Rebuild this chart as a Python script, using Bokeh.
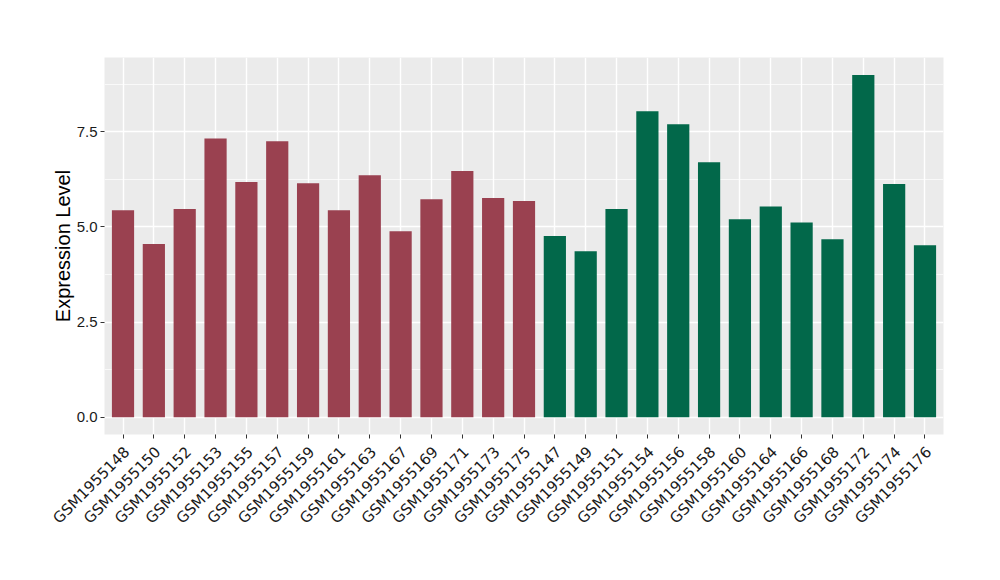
from math import pi
from bokeh.plotting import figure
from bokeh.models import ColumnDataSource, Range1d, FixedTicker, LinearAxis
from bokeh.embed import file_html
from bokeh.resources import INLINE

samples = ["GSM1955148", "GSM1955150", "GSM1955152", "GSM1955153", "GSM1955155",
           "GSM1955157", "GSM1955159", "GSM1955161", "GSM1955163", "GSM1955167",
           "GSM1955169", "GSM1955171", "GSM1955173", "GSM1955175", "GSM1955147",
           "GSM1955149", "GSM1955151", "GSM1955154", "GSM1955156", "GSM1955158",
           "GSM1955160", "GSM1955164", "GSM1955166", "GSM1955168", "GSM1955172",
           "GSM1955174", "GSM1955176"]
values = [5.44, 4.55, 5.47, 7.32, 6.18, 7.25, 6.15, 5.44, 6.36, 4.89, 5.73, 6.47,
          5.76, 5.68, 4.76, 4.36, 5.47, 8.04, 7.70, 6.70, 5.20, 5.54, 5.12, 4.68,
          8.99, 6.13, 4.52]
groups = ["A"] * 14 + ["B"] * 13
group_colors = {"A": "#9A4150", "B": "#02684A"}
y_ticks = [0.0, 2.5, 5.0, 7.5]
y_tick_labels = {0.0: "0.0", 2.5: "2.5", 5.0: "5.0", 7.5: "7.5"}
minor_ticks = [1.25, 3.75, 6.25, 8.75]

n = len(samples)
pos = [i + 1 for i in range(n)]          # category slots 1..n, as in ggplot
colors = [group_colors[g] for g in groups]
src = ColumnDataSource(dict(x=pos, top=values, color=colors, name=samples))

p = figure(x_range=Range1d(0.4, n + 0.6),
           y_range=Range1d(-0.45, 9.45),
           frame_width=839, frame_height=377,
           min_border_left=104, min_border_right=49, min_border_top=57, min_border_bottom=139,
           output_backend="svg", toolbar_location=None)

p.vbar(x="x", top="top", bottom=0, width=0.72, color="color", source=src, line_color=None)

p.background_fill_color = "#EBEBEB"
p.border_fill_color = "white"
p.outline_line_color = None

p.xaxis.visible = False
p.xgrid.ticker = FixedTicker(ticks=pos, minor_ticks=[])
p.xgrid.grid_line_color = "white"
p.xgrid.grid_line_width = 1.4
p.ygrid.grid_line_color = "white"
p.ygrid.grid_line_width = 1.4
p.ygrid.minor_grid_line_color = "white"
p.ygrid.minor_grid_line_width = 0.7

p.yaxis.ticker = FixedTicker(ticks=y_ticks, minor_ticks=minor_ticks)
p.yaxis.major_label_overrides = y_tick_labels
p.yaxis.axis_label = "Expression Level"
p.yaxis.axis_label_text_font = "Liberation Sans"
p.yaxis.axis_label_text_font_size = "20px"
p.yaxis.axis_label_text_font_style = "normal"
p.yaxis.axis_label_text_color = "black"
p.yaxis.axis_label_standoff = 0
p.yaxis.axis_line_color = None
p.yaxis.major_tick_line_color = "#333333"
p.yaxis.major_tick_in = 0
p.yaxis.major_tick_out = 4
p.yaxis.minor_tick_line_color = None
p.yaxis.major_label_text_color = "#1a1a1a"
p.yaxis.major_label_standoff = 3
p.yaxis.major_label_text_font = "Liberation Sans"
p.yaxis.major_label_text_font_size = "15px"

# x axis on a slightly shifted range so each rotated label's top-right corner
# sits at its category; the tick marks (drawn as minor ticks) stay on the bars
shift = 0.13
p.extra_x_ranges = {"lab": Range1d(0.4 - shift, n + 0.6 - shift)}
lab_axis = LinearAxis(x_range_name="lab",
                      ticker=FixedTicker(ticks=pos, minor_ticks=[v - shift for v in pos]),
                      major_label_overrides={v: s for v, s in zip(pos, samples)})
lab_axis.axis_line_color = None
lab_axis.major_tick_line_color = None
lab_axis.major_tick_in = 0
lab_axis.major_tick_out = 0
lab_axis.minor_tick_line_color = "#333333"
lab_axis.minor_tick_in = 0
lab_axis.minor_tick_out = 4
lab_axis.major_label_text_font = "DejaVu Sans"
lab_axis.major_label_text_font_size = "15px"
lab_axis.major_label_text_color = "#1a1a1a"
lab_axis.major_label_orientation = pi / 4
lab_axis.major_label_standoff = 11
p.add_layout(lab_axis, "below")

open("out.html", "w").write(file_html(p, INLINE))
